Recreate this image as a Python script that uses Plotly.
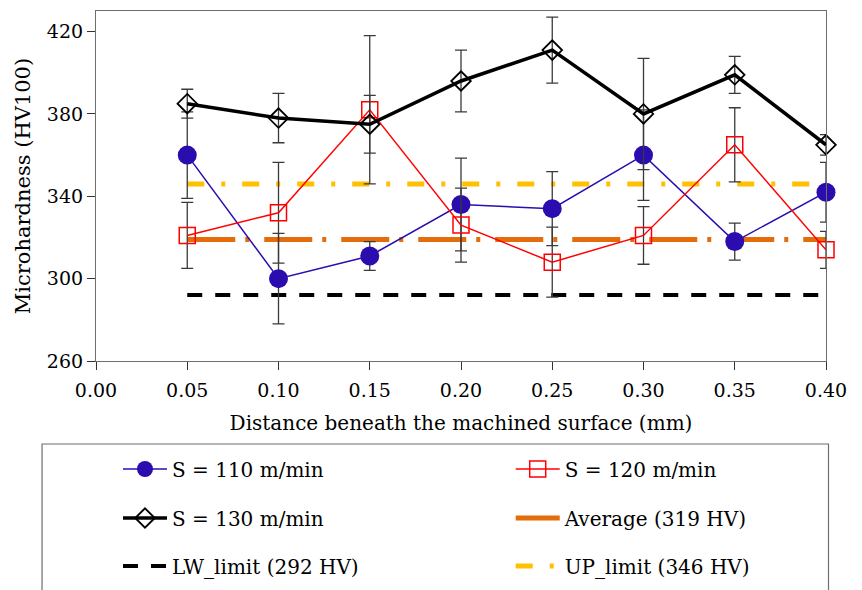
import plotly.graph_objects as go

x_mm = [0.05, 0.10, 0.15, 0.20, 0.25, 0.30, 0.35, 0.40]
s110 = [360, 300, 311, 336, 334, 360, 318, 342]
s110_err = [21, 22, 7, 22.5, 18, 22, 9, 14.5]
s120 = [321, 332, 382, 326, 308, 321, 365, 314]
s120_err = [16, 24.5, 36, 18, 17, 14, 18, 9]
s130 = [385, 378, 375, 396, 411, 380, 399, 365]
s130_err = [7, 12, 14, 15, 16, 27, 9, 5]
limit_x = [0.05, 0.40]
lw_limit = 292
average = 319
up_limit = 346
y_ticks = [260, 300, 340, 380, 420]
x_ticks = [0.00, 0.05, 0.10, 0.15, 0.20, 0.25, 0.30, 0.35, 0.40]

FONT = "DejaVu Serif"
ERRC = "#3a3a3a"

OFF = 8  # page body margin
W, H = 862 - OFF, 590 - OFF
PL, PR, PT, PB = 96 - OFF, 826.5 - OFF, 11 - OFF, 361 - OFF
PW, PH = PR - PL, PB - PT

def px_x(p):
    return (p - OFF - PL) / PW

def px_y(p):
    return (PB - (p - OFF)) / PH

fig = go.Figure()

fig.add_trace(go.Scatter(x=limit_x, y=[lw_limit] * 2, mode="lines", name="LW_limit (292 HV)",
                         line=dict(color="black", width=4, dash="15px,13px"), legend="legend5"))
fig.add_trace(go.Scatter(x=limit_x, y=[average] * 2, mode="lines", name="Average (319 HV)",
                         line=dict(color="#E46C0A", width=5, dash="48px,10px,4px,15px"), legend="legend4"))
fig.add_trace(go.Scatter(x=limit_x, y=[up_limit] * 2, mode="lines", name="UP_limit (346 HV)",
                         line=dict(color="#FFC000", width=5, dash="17px,17px,4px,17px"), legend="legend6"))

err = lambda v: dict(type="data", array=v, visible=True, color=ERRC, thickness=1.3, width=6)

fig.add_trace(go.Scatter(x=x_mm, y=s110, mode="lines+markers", name="S = 110 m/min",
                         line=dict(color="#2B0CAE", width=1.5),
                         marker=dict(symbol="circle", size=19, color="#2B0CAE"),
                         error_y=err(s110_err), legend="legend", cliponaxis=False))
fig.add_trace(go.Scatter(x=x_mm, y=s120, mode="lines+markers", name="S = 120 m/min",
                         line=dict(color="#FF0000", width=1.5),
                         marker=dict(symbol="square-open", size=16, color="#FF0000", line=dict(width=1.5)),
                         error_y=err(s120_err), legend="legend2", cliponaxis=False))
fig.add_trace(go.Scatter(x=x_mm, y=s130, mode="lines+markers", name="S = 130 m/min",
                         line=dict(color="black", width=3.5),
                         marker=dict(symbol="diamond-open", size=15, color="black", line=dict(width=1.8)),
                         error_y=err(s130_err), legend="legend3", cliponaxis=False))

fig.add_shape(type="rect", xref="paper", yref="paper", x0=px_x(42), x1=px_x(829), y0=px_y(605), y1=px_y(444),
              line=dict(color="#6e6e6e", width=1.2), fillcolor="rgba(0,0,0,0)", layer="above")

def leg(xp, yp):
    return dict(orientation="v", xanchor="left", yanchor="middle", x=px_x(xp), y=px_y(yp),
                font=dict(family=FONT, size=20, color="black"), bgcolor="rgba(0,0,0,0)",
                borderwidth=0, itemwidth=44)

col1, col2 = 118, 511
row1, row2, row3 = 469, 518, 566

fig.update_layout(
    width=W, height=H,
    margin=dict(l=PL, r=W - PR, t=PT, b=H - PB, autoexpand=False),
    paper_bgcolor="white", plot_bgcolor="white",
    font=dict(family=FONT, size=19, color="black"),
    showlegend=True,
    legend=leg(col1, row1), legend2=leg(col2, row1),
    legend3=leg(col1, row2), legend4=leg(col2, row2),
    legend5=leg(col1, row3), legend6=leg(col2, row3),
    xaxis=dict(range=[0, 0.40], tickvals=x_ticks, tickformat=".2f", showgrid=False, zeroline=False,
               showline=True, linecolor="#6e6e6e", linewidth=1.2, mirror=True,
               ticks="outside", ticklen=8, tickcolor="#333", tickwidth=1.2, ticklabelstandoff=4,
               tickfont=dict(family=FONT, size=19),
               title=dict(text="Distance beneath the machined surface (mm)", font=dict(family=FONT, size=20), standoff=16)),
    yaxis=dict(range=[260, 430], tickvals=y_ticks, showgrid=False, zeroline=False,
               showline=True, linecolor="#6e6e6e", linewidth=1.2, mirror=True,
               ticks="outside", ticklen=8, tickcolor="#333", tickwidth=1.2,
               tickfont=dict(family=FONT, size=19),
               title=dict(text="Microhardness (HV100)", font=dict(family=FONT, size=21), standoff=10)),
)

fig.write_html("out.html")
